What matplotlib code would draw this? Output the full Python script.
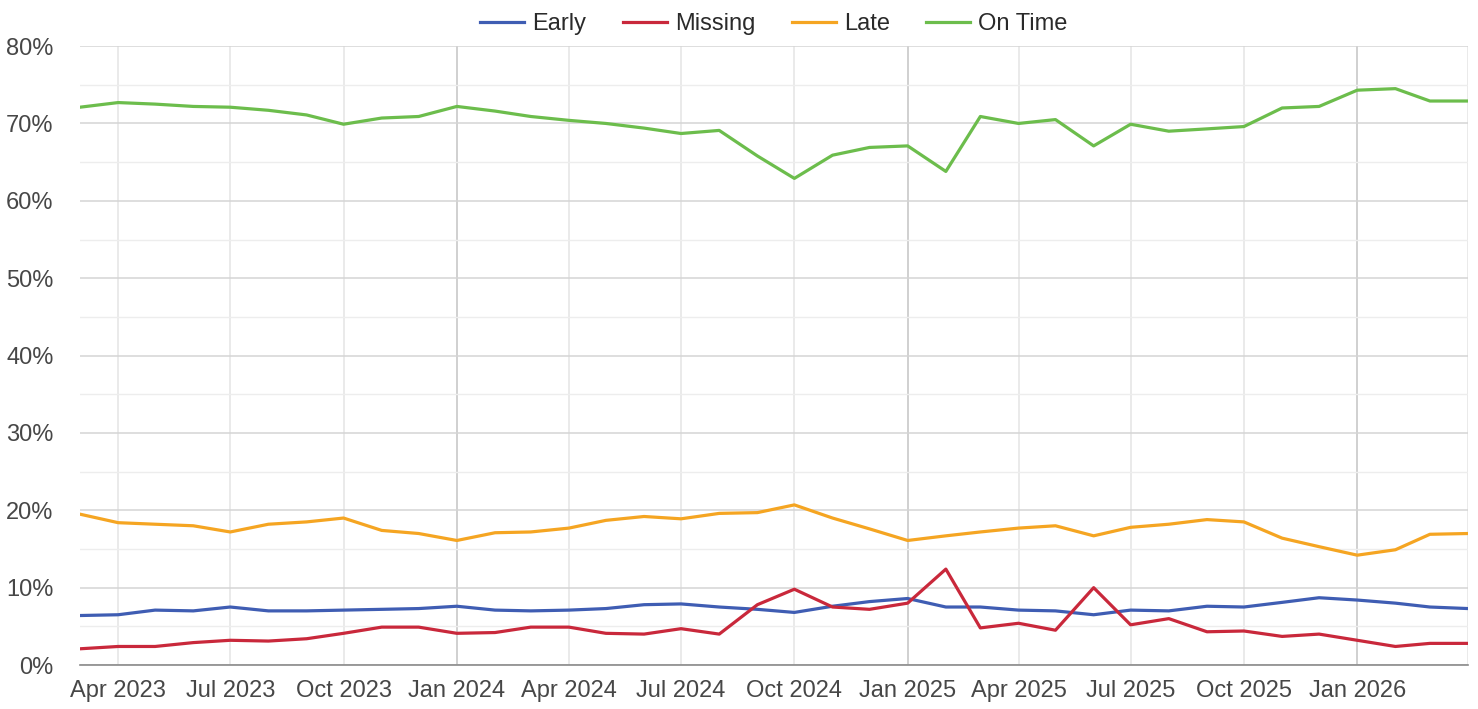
import numpy as np
import pandas as pd
import matplotlib
matplotlib.use("Agg")
import matplotlib.pyplot as plt
from matplotlib.ticker import MultipleLocator, FuncFormatter

plt.rcParams["font.family"] = ["Liberation Sans", "DejaVu Sans"]

# monthly share of deliveries, Mar 2023 .. Apr 2026 (percent)
months = pd.date_range("2023-03-01", periods=38, freq="MS")

early = [6.4, 6.5, 7.1, 7.0, 7.5, 7.0, 7.0, 7.1, 7.2, 7.3,
         7.6, 7.1, 7.0, 7.1, 7.3, 7.8, 7.9, 7.5, 7.2, 6.8,
         7.6, 8.2, 8.6, 7.5, 7.5, 7.1, 7.0, 6.5, 7.1, 7.0,
         7.6, 7.5, 8.1, 8.7, 8.4, 8.0, 7.5, 7.3]

missing = [2.1, 2.4, 2.4, 2.9, 3.2, 3.1, 3.4, 4.1, 4.9, 4.9,
           4.1, 4.2, 4.9, 4.9, 4.1, 4.0, 4.7, 4.0, 7.8, 9.8,
           7.5, 7.2, 8.0, 12.4, 4.8, 5.4, 4.5, 10.0, 5.2, 6.0,
           4.3, 4.4, 3.7, 4.0, 3.2, 2.4, 2.8, 2.8]

late = [19.5, 18.4, 18.2, 18.0, 17.2, 18.2, 18.5, 19.0, 17.4, 17.0,
        16.1, 17.1, 17.2, 17.7, 18.7, 19.2, 18.9, 19.6, 19.7, 20.7,
        19.0, 17.6, 16.1, 16.7, 17.2, 17.7, 18.0, 16.7, 17.8, 18.2,
        18.8, 18.5, 16.4, 15.3, 14.2, 14.9, 16.9, 17.0]

on_time = [72.1, 72.7, 72.5, 72.2, 72.1, 71.7, 71.1, 69.9, 70.7, 70.9,
           72.2, 71.6, 70.9, 70.4, 70.0, 69.4, 68.7, 69.1, 65.8, 62.9,
           65.9, 66.9, 67.1, 63.8, 70.9, 70.0, 70.5, 67.1, 69.9, 69.0,
           69.3, 69.6, 72.0, 72.2, 74.3, 74.5, 72.9, 72.9]

series = ["Early", "Missing", "Late", "On Time"]
colors = ["#3f5db3", "#c9283b", "#f5a522", "#6cbd4c"]

# quarterly ticks; the last one sits on the right edge and is left unlabelled
tick_dates = pd.date_range("2023-04-01", "2026-04-01", freq="QS-JAN")
tick_labels = [d.strftime("%b %Y") for d in tick_dates[:-1]] + [""]

fig = plt.figure(figsize=(14.78, 7.09), dpi=100)
ax = fig.add_axes([0.0541, 0.062, 0.9392, 0.873])

for name, vals, c in zip(series, [early, missing, late, on_time], colors):
    ax.plot(months, vals, color=c, lw=2.3, label=name, solid_joinstyle="round")

ax.set_xlim(months[0], months[-1])
ax.set_ylim(0, 80)

# horizontal grid: 10% major, 5% minor
ax.yaxis.set_major_locator(MultipleLocator(10))
ax.yaxis.set_minor_locator(MultipleLocator(5))
ax.yaxis.set_major_formatter(FuncFormatter(lambda v, _: f"{v:.0f}%"))
ax.grid(axis="y", which="major", color="#d4d4d4", lw=1.1)
ax.grid(axis="y", which="minor", color="#ededed", lw=1.0)

# vertical grid at quarters, January lines a shade darker
for d in tick_dates:
    ax.axvline(d, color="#c4c4c4" if d.month == 1 else "#e4e4e4", lw=1.1, zorder=0)
ax.set_xticks(tick_dates)
ax.set_xticklabels(tick_labels)
ax.set_axisbelow(True)

for s in ["top", "right", "left"]:
    ax.spines[s].set_visible(False)
ax.spines["bottom"].set_color("#8a8a8a")
ax.spines["bottom"].set_linewidth(1.2)

ax.tick_params(axis="both", which="both", length=0, labelsize=17, colors="#474747")
ax.tick_params(axis="x", pad=11)
ax.tick_params(axis="y", pad=19)

ax.legend(loc="lower center", bbox_to_anchor=(0.5, 1.0), ncol=4, frameon=False,
          fontsize=17, handlelength=1.85, handletextpad=0.35, columnspacing=1.55,
          borderaxespad=0.05, labelcolor="#2a2a2a")

fig.savefig("out.png", dpi=100)
